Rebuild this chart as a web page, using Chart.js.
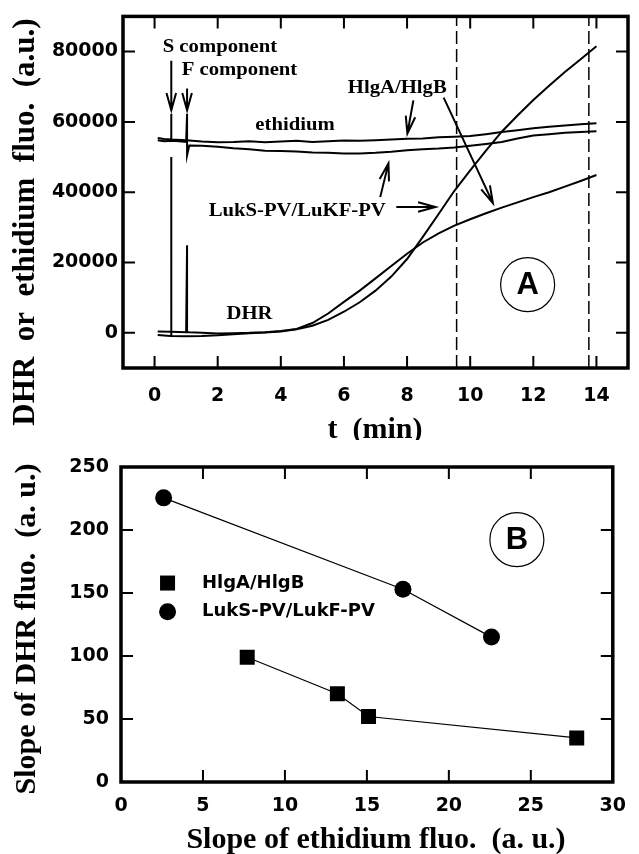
<!DOCTYPE html>
<html>
<head>
<meta charset="utf-8">
<script src="https://cdn.jsdelivr.net/npm/chart.js@4.4.1/dist/chart.umd.min.js"></script>
<style>
  body { margin: 0; background: #fff; }
  #wrap { position: relative; width: 639px; height: 854px; }
  canvas { position: absolute; left: 0; }
  #chartA { top: 0; }
  #chartB { top: 440px; }
</style>
</head>
<body>
<div id="wrap">
  <canvas id="chartA" width="639" height="440"></canvas>
  <canvas id="chartB" width="639" height="414"></canvas>
</div>
<script>
// ---------- panel A : fluorescence traces ----------
const xTicksA = [0, 2, 4, 6, 8, 10, 12, 14];
const yTicksA = [0, 20000, 40000, 60000, 80000];

// ethidium, HlgA/HlgB (upper trace), spike at S addition
const ethHlgT = [0.1, 0.3, 0.53, 0.53, 0.53, 1.0, 1.5, 2.0, 2.5, 3.0, 3.5, 4.0, 4.5, 5.0, 5.5, 6.0, 6.5, 7.0, 7.5, 8.0, 8.5, 9.0, 9.5, 10.0, 10.5, 11.0, 11.5, 12.0, 12.5, 13.0, 13.5, 14.0];
const ethHlgV = [55400, 55100, 55000, 62300, 55000, 54800, 54400, 54200, 54300, 54500, 54200, 54400, 54600, 54300, 54500, 54700, 54600, 54800, 55000, 55200, 55300, 55600, 55800, 56000, 56500, 57100, 57600, 58200, 58600, 59000, 59300, 59600];

// ethidium, LukS-PV/LukF-PV (lower trace), spike at F addition
const ethLukT = [0.1, 0.3, 0.6, 1.0, 1.03, 1.03, 1.1, 1.5, 2.0, 2.5, 3.0, 3.5, 4.0, 4.5, 5.0, 5.5, 6.0, 6.5, 7.0, 7.5, 8.0, 8.5, 9.0, 9.5, 10.0, 10.5, 11.0, 11.5, 12.0, 12.5, 13.0, 13.5, 14.0];
const ethLukV = [54800, 54500, 54600, 54300, 62300, 50500, 53300, 53200, 52900, 52500, 52200, 51800, 51700, 51600, 51300, 51200, 51000, 51000, 51200, 51500, 51900, 52200, 52400, 52700, 53200, 53700, 54300, 55300, 56100, 56500, 56900, 57100, 57300];

// DHR, HlgA/HlgB (slower rise), spike at F addition
const dhrHlgT = [0.1, 0.5, 1.0, 1.03, 1.03, 1.1, 1.5, 2.0, 2.5, 3.0, 3.5, 4.0, 4.5, 5.0, 5.5, 6.0, 6.5, 7.0, 7.5, 8.0, 8.5, 9.0, 9.5, 10.0, 10.5, 11.0, 11.5, 12.0, 12.5, 13.0, 13.5, 14.0];
const dhrHlgV = [400, 300, 200, 24900, 200, 150, 0, -200, -100, 0, 200, 500, 1100, 2800, 5500, 8800, 12000, 15500, 19000, 22500, 25700, 28300, 30500, 32300, 34000, 35600, 37100, 38600, 40000, 41600, 43200, 44900];

// DHR, LukS-PV/LukF-PV (steep rise), spike at S addition
const dhrLukT = [0.1, 0.5, 0.53, 0.53, 0.53, 1.0, 1.5, 2.0, 2.5, 3.0, 3.5, 4.0, 4.5, 5.0, 5.5, 6.0, 6.5, 7.0, 7.5, 8.0, 8.5, 9.0, 9.5, 10.0, 10.5, 11.0, 11.5, 12.0, 12.5, 13.0, 13.5, 14.0];
const dhrLukV = [-600, -900, -900, 50000, -900, -1000, -900, -700, -400, -100, 100, 400, 1000, 2000, 3700, 6000, 8700, 12000, 16000, 21000, 27300, 33800, 40400, 46200, 51800, 57200, 61800, 66200, 70300, 74200, 77800, 81500];

// dashed markers (min)
const dashT = [9.57, 13.76];

// ---------- panel B : slopes ----------
const xTicksB = [0, 5, 10, 15, 20, 25, 30];
const yTicksB = [0, 50, 100, 150, 200, 250];
const hlgEth = [7.7, 13.2, 15.1, 27.8];
const hlgDhr = [99, 70, 52, 35];
const lukEth = [2.6, 17.2, 22.6];
const lukDhr = [225.5, 153, 115];

function toPoints(xs, ys) {
  return xs.map((x, i) => ({ x: x, y: ys[i] }));
}

const SERIF = "'Liberation Serif', 'Times New Roman', serif";
const SANS = "'DejaVu Sans', sans-serif";

function txt(ctx, s, x, y, font, sx, rot, align) {
  ctx.save();
  ctx.translate(x, y);
  if (rot) ctx.rotate(rot);
  ctx.scale(sx, 1);
  ctx.font = font;
  ctx.fillStyle = '#000';
  ctx.textAlign = align || 'center';
  ctx.textBaseline = 'middle';
  ctx.fillText(s, 0, 0);
  ctx.restore();
}

function arrow(ctx, x1, y1, x2, y2) {
  const ang = Math.atan2(y2 - y1, x2 - x1);
  const h = 18, w = 0.27;
  ctx.beginPath();
  ctx.moveTo(x1, y1);
  ctx.lineTo(x2, y2);
  ctx.moveTo(x2 - h * Math.cos(ang - w), y2 - h * Math.sin(ang - w));
  ctx.lineTo(x2, y2);
  ctx.lineTo(x2 - h * Math.cos(ang + w), y2 - h * Math.sin(ang + w));
  ctx.stroke();
}

// frame + inward tick marks on all four sides
function frameTicks(chart) {
  const ctx = chart.ctx;
  const a = chart.chartArea;
  const xs = chart.scales.x;
  const ys = chart.scales.y;
  ctx.save();
  ctx.strokeStyle = '#000';
  ctx.lineWidth = 2;
  ctx.beginPath();
  xs.ticks.forEach((t) => {
    const p = xs.getPixelForValue(t.value);
    ctx.moveTo(p, a.bottom); ctx.lineTo(p, a.bottom - 12);
    ctx.moveTo(p, a.top); ctx.lineTo(p, a.top + 12);
  });
  ys.ticks.forEach((t) => {
    const p = ys.getPixelForValue(t.value);
    ctx.moveTo(a.left, p); ctx.lineTo(a.left + 12, p);
    ctx.moveTo(a.right, p); ctx.lineTo(a.right - 12, p);
  });
  ctx.stroke();
  ctx.lineWidth = 3.5;
  ctx.strokeRect(a.left, a.top, a.right - a.left, a.bottom - a.top);
  ctx.restore();
}

// labels and arrows of panel A, positioned in data units
const notesA = [
  { text: 'S component', t: 2.07, v: 81250 },
  { text: 'F component', t: 2.69, v: 74600 },
  { text: 'ethidium', t: 4.45, v: 59000 },
  { text: 'HlgA/HlgB', t: 7.69, v: 69500 },
  { text: 'LukS-PV/LuKF-PV', t: 4.52, v: 34450 },
  { text: 'DHR', t: 3.01, v: 5200 }
];
const arrowsA = [
  [0.53, 77400, 0.53, 63300],
  [1.03, 69500, 1.03, 63300],
  [8.20, 66100, 8.01, 56700],
  [9.16, 66900, 10.72, 36900],
  [7.66, 35800, 8.90, 35800],
  [7.15, 38600, 7.41, 48200]
];

const annotateA = {
  id: 'annotateA',
  afterDraw(chart) {
    const ctx = chart.ctx;
    const xs = chart.scales.x, ys = chart.scales.y;
    frameTicks(chart);
    notesA.forEach((n) => {
      txt(ctx, n.text, xs.getPixelForValue(n.t), ys.getPixelForValue(n.v), 'bold 18px ' + SERIF, 1.15);
    });
    ctx.save();
    ctx.strokeStyle = '#000';
    ctx.lineWidth = 2;
    arrowsA.forEach((r) => {
      arrow(ctx, xs.getPixelForValue(r[0]), ys.getPixelForValue(r[1]), xs.getPixelForValue(r[2]), ys.getPixelForValue(r[3]));
    });
    // circled A
    const cx = xs.getPixelForValue(11.82), cy = ys.getPixelForValue(13700);
    ctx.lineWidth = 1.2;
    ctx.beginPath();
    ctx.arc(cx, cy, 27, 0, Math.PI * 2);
    ctx.stroke();
    ctx.restore();
    txt(ctx, 'A', cx, cy + 1, "bold 31px 'Liberation Sans', Arial, sans-serif", 1);
    // axis titles
    txt(ctx, 'DHR  or  ethidium  fluo.  (a.u.)', 26, 222, 'bold 31px ' + SERIF, 1, -Math.PI / 2);
    txt(ctx, 't  (min)', 375, 430, 'bold 30px ' + SERIF, 1);
  }
};

const traceStyle = { showLine: true, borderColor: '#000', borderWidth: 2, pointRadius: 0, fill: false, tension: 0 };
const dashStyle = { showLine: true, borderColor: '#000', borderWidth: 1.5, borderDash: [13, 5], pointRadius: 0, fill: false };

const chartA = new Chart(document.getElementById('chartA'), {
  type: 'scatter',
  data: {
    datasets: [
      Object.assign({ label: 'ethidium HlgA/HlgB', data: toPoints(ethHlgT, ethHlgV) }, traceStyle),
      Object.assign({ label: 'ethidium LukS-PV/LukF-PV', data: toPoints(ethLukT, ethLukV) }, traceStyle),
      Object.assign({ label: 'DHR HlgA/HlgB', data: toPoints(dhrHlgT, dhrHlgV) }, traceStyle),
      Object.assign({ label: 'DHR LukS-PV/LukF-PV', data: toPoints(dhrLukT, dhrLukV) }, traceStyle),
      Object.assign({ label: 'mark 1', data: [{ x: dashT[0], y: -10000 }, { x: dashT[0], y: 90000 }] }, dashStyle),
      Object.assign({ label: 'mark 2', data: [{ x: dashT[1], y: -10000 }, { x: dashT[1], y: 90000 }] }, dashStyle)
    ]
  },
  options: {
    responsive: false,
    animation: false,
    devicePixelRatio: 1,
    layout: { padding: { top: 15, right: 11, left: 0, bottom: 0 } },
    plugins: { legend: { display: false }, tooltip: { enabled: false } },
    scales: {
      x: {
        type: 'linear', min: -1, max: 15,
        afterBuildTicks: (s) => { s.ticks = xTicksA.map((v) => ({ value: v })); },
        afterFit: (s) => { s.height = 72; },
        grid: { display: false, drawTicks: false },
        border: { display: false },
        ticks: { color: '#000', padding: 17, font: { family: SANS, size: 19, weight: 'bold' } }
      },
      y: {
        type: 'linear', min: -10000, max: 90000,
        afterBuildTicks: (s) => { s.ticks = yTicksA.map((v) => ({ value: v })); },
        afterFit: (s) => { s.width = 123; },
        grid: { display: false, drawTicks: false },
        border: { display: false },
        ticks: { color: '#000', padding: 5, font: { family: SANS, size: 19, weight: 'bold' }, callback: (v) => String(v) }
      }
    }
  },
  plugins: [annotateA]
});

// legend, circled B and titles of panel B
const annotateB = {
  id: 'annotateB',
  afterDraw(chart) {
    const ctx = chart.ctx;
    const xs = chart.scales.x, ys = chart.scales.y;
    frameTicks(chart);
    ctx.save();
    ctx.fillStyle = '#000';
    const lx = xs.getPixelForValue(2.84);
    const ly1 = ys.getPixelForValue(157.9), ly2 = ys.getPixelForValue(135.1);
    ctx.fillRect(lx - 7.5, ly1 - 7.5, 15, 15);
    ctx.beginPath();
    ctx.arc(lx, ly2, 8.5, 0, Math.PI * 2);
    ctx.fill();
    const cx = xs.getPixelForValue(24.15), cy = ys.getPixelForValue(192.3);
    ctx.strokeStyle = '#000';
    ctx.lineWidth = 1.2;
    ctx.beginPath();
    ctx.arc(cx, cy, 27, 0, Math.PI * 2);
    ctx.stroke();
    ctx.restore();
    const tx = xs.getPixelForValue(4.94);
    txt(ctx, 'HlgA/HlgB', tx, ly1, 'bold 18px ' + SANS, 1, 0, 'left');
    txt(ctx, 'LukS-PV/LukF-PV', tx, ly2, 'bold 18px ' + SANS, 1, 0, 'left');
    txt(ctx, 'B', cx, cy + 1, "bold 31px 'Liberation Sans', Arial, sans-serif", 1);
    txt(ctx, 'Slope of DHR fluo.  (a. u.)', 27, 189, 'bold 30px ' + SERIF, 1, -Math.PI / 2);
    txt(ctx, 'Slope of ethidium fluo.  (a. u.)', 376, 400, 'bold 30px ' + SERIF, 1);
  }
};

const chartB = new Chart(document.getElementById('chartB'), {
  type: 'scatter',
  data: {
    datasets: [
      {
        label: 'HlgA/HlgB', data: toPoints(hlgEth, hlgDhr), showLine: true,
        borderColor: '#000', borderWidth: 1.2, backgroundColor: '#000',
        pointStyle: 'rect', pointRadius: 10.6, pointBorderWidth: 0
      },
      {
        label: 'LukS-PV/LukF-PV', data: toPoints(lukEth, lukDhr), showLine: true,
        borderColor: '#000', borderWidth: 1.2, backgroundColor: '#000',
        pointStyle: 'circle', pointRadius: 8.5, pointBorderWidth: 0
      }
    ]
  },
  options: {
    responsive: false,
    animation: false,
    devicePixelRatio: 1,
    layout: { padding: { top: 27, right: 14, left: 0, bottom: 0 } },
    plugins: { legend: { display: false }, tooltip: { enabled: false } },
    scales: {
      x: {
        type: 'linear', min: 0, max: 30,
        afterBuildTicks: (s) => { s.ticks = xTicksB.map((v) => ({ value: v })); },
        afterFit: (s) => { s.height = 72; },
        grid: { display: false, drawTicks: false },
        border: { display: false },
        ticks: { color: '#000', padding: 13, font: { family: SANS, size: 19, weight: 'bold' } }
      },
      y: {
        type: 'linear', min: 0, max: 250,
        afterBuildTicks: (s) => { s.ticks = yTicksB.map((v) => ({ value: v })); },
        afterFit: (s) => { s.width = 121; },
        grid: { display: false, drawTicks: false },
        border: { display: false },
        ticks: { color: '#000', padding: 12, font: { family: SANS, size: 19, weight: 'bold' } }
      }
    }
  },
  plugins: [annotateB]
});
</script>
</body>
</html>
